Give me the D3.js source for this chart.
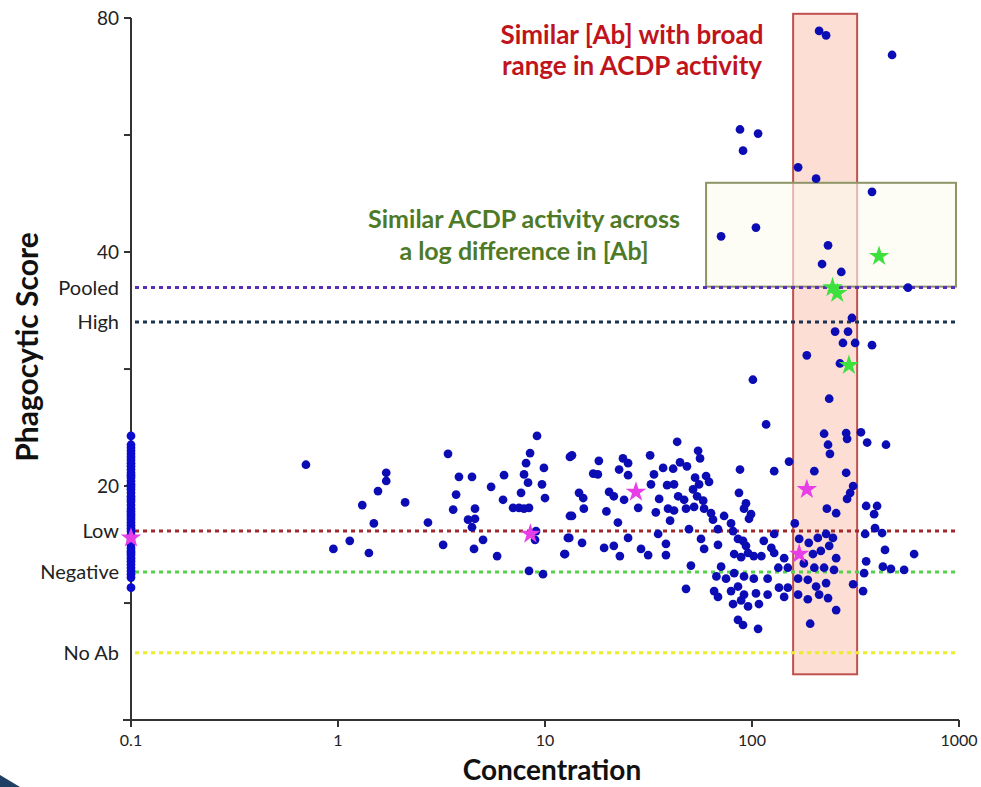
<!DOCTYPE html>
<html>
<head>
<meta charset="utf-8">
<script src="https://cdn.jsdelivr.net/npm/d3@7"></script>
<style>
body{margin:0;background:#fff;}
svg{display:block;font-family:Lato,"Open Sans",sans-serif;}
</style>
</head>
<body>
<div id="chart"></div>
<script>
// axis ticks
const xTicks=[0.1,1,10,100,1000];
const xTickLabels=["0.1","1","10","100","1000"];
const yTicks=[20,40,80];
const yMinorTicks=[14.14,28.28,56.57];

// threshold lines
const refNames=["Pooled","High","Low","Negative","No Ab"];
const refScores=[36.0,32.5,17.5,15.5,12.2];
const refColors=["#5a2fb8","#1d3350","#a0282a","#55d24a","#ecec2c"];

// samples without antibody, plotted at 0.1
const noAbConc=0.1;
const noAbScores=[23.2,22.6,22.4,22.2,22.0,21.8,21.6,21.4,21.2,21.0,20.8,20.65,20.5,20.3,20.1,19.95,19.8,19.6,19.4,19.25,19.1,18.9,
18.7,18.55,18.4,18.25,18.1,17.95,17.8,17.65,17.5,17.3,17.1,16.95,16.8,16.65,16.5,16.4,16.3,16.15,16.0,15.85,15.7,15.55,15.4,15.25,14.8];

// individual samples
const sampleConc=[0.70,0.95,1.14,1.31,1.41,1.49,1.56,1.71,1.71,2.11,2.72,3.22,3.40,3.60,3.72,3.84,4.25,4.44,4.54,4.59,
4.59,4.44,5.02,5.49,5.87,6.27,6.34,7.01,7.49,7.92,8.37,7.66,7.92,8.10,8.28,8.47,9.15,9.88,9.67,10.0,
9.05,8.95,8.37,9.78,12.4,12.9,13.2,13.2,117,13.5,18.2,17.1,18.0,14.6,15.3,15.4,13.5,13.1,15.1,12.5,
23.8,25.2,22.8,25.2,20.4,21.5,24.1,28.2,19.8,22.5,25.2,21.5,19.3,23.0,29.1,31.5,32.2,33.6,32.5,35.6,
34.3,35.2,38.4,38.4,37.2,41.6,38.9,42.0,43.5,44.9,48.5,44.0,39.3,42.0,40.2,47.0,48.0,52.5,54.9,56.1,
53.1,55.5,51.9,54.3,49.6,50.7,48.0,58.1,58.7,60.0,62.0,63.4,64.8,73.3,56.7,58.7,68.5,68.5,79.2,81.0,
87.5,86.5,91.5,96.7,93.5,98.9,128,85.6,90.5,93.5,82.0,88.6,95.7,102,111,124,128,114,128,70.9,
67.3,74.9,82.0,91.5,102,119,134,65.6,68.5,79.2,85.6,91.5,104.5,119,81.0,88.6,95.7,108,85.6,90.5,
107,101,252,291,275,315,380,184,266,236,223,285,288,336,360,444,233,238,200,285,
151,308,298,288,230,255,356,402,389,393,425,352,439,607,429,469,543,356,348,344,
308,161,169,188,208,228,246,236,215,197,255,178,200,223,249,167,186,204,228,167,
186,211,233,255,191,149,143,143,149,135,211,228,475,87.5,107,90.5,167,204,380,70.9,
104.5,233,218,270,567,304];
const sampleScore=[21.3,16.6,17.0,18.9,16.4,17.9,19.7,20.8,20.3,19.05,17.95,16.8,22.0,18.65,19.5,20.55,18.1,20.55,16.6,18.7,
18.15,17.7,17.05,19.95,16.25,19.2,20.65,18.75,18.75,18.7,18.75,19.6,20.7,21.4,20.2,22.05,23.2,21.1,20.1,19.3,
17.5,17.05,15.55,15.4,16.35,17.15,18.3,21.8,24.0,21.9,21.55,20.75,20.7,19.6,19.3,18.7,18.3,17.15,16.9,16.35,
21.7,21.4,21.0,20.65,19.65,19.4,19.2,18.75,18.55,17.95,17.15,16.75,16.65,16.25,16.6,16.3,21.9,20.7,20.1,19.25,
18.5,17.35,16.85,16.3,21.1,21.05,20.05,20.1,22.8,21.45,21.2,19.4,18.7,18.6,18.05,19.2,18.7,18.8,22.2,21.7,
20.5,20.1,19.8,19.4,17.6,15.8,14.75,19.15,18.7,20.6,20.25,18.45,18.1,18.3,17.1,16.6,17.6,16.8,17.9,17.5,
21.0,19.6,18.7,18.15,19.0,18.4,20.9,17.1,17.0,16.75,16.35,16.2,16.4,16.25,16.25,16.65,16.4,17.0,17.35,15.75,
15.3,15.2,15.45,15.3,15.2,15.2,15.7,14.65,14.4,14.65,14.85,14.5,14.55,14.5,14.1,14.25,14.0,14.1,13.45,13.25,
13.1,27.4,31.6,31.6,30.55,30.55,30.35,29.45,28.75,25.9,23.35,23.4,23.0,23.45,22.75,22.6,22.6,22.0,20.9,20.8,
21.5,20.0,19.6,19.25,18.7,18.45,18.85,18.85,18.4,17.65,17.4,17.35,16.55,16.35,15.75,15.65,15.6,16.0,15.45,14.65,
14.95,17.9,17.1,16.9,17.15,17.35,17.15,16.75,16.5,16.35,16.15,15.9,15.7,15.7,15.6,15.2,15.15,14.85,15.0,14.5,
14.3,14.5,14.35,13.85,13.3,15.7,16.15,14.4,14.8,14.8,77.0,76.0,71.7,57.5,56.8,54.0,51.4,49.7,47.8,41.9,
43.0,40.8,38.6,37.7,36.0,32.9];

// highlighted samples
const pinkConc=[0.1,8.5,27.5,184,169];
const pinkScore=[17.15,17.35,19.65,19.8,16.35];
const greenConc=[245,258,411,294];
const greenScore=[36.0,35.4,39.5,28.6];

// annotation boxes [conc0, conc1, score0, score1]
const redBox=[158,322,11.45,81];
const greenBox=[60,967,36.1,49.1];
const redNote=["Similar [Ab] with broad","range in ACDP activity"];
const greenNote=["Similar ACDP activity across","a log difference in [Ab]"];

window.addEventListener("load",draw);
function draw(){
const svg=d3.select("#chart").append("svg")
    .attr("width",981)
    .attr("height",787);

const x=d3.scaleLog().domain([0.1,1000]).range([131,959]);
const y=d3.scaleLog().base(2).domain([10,80]).range([720,18]);

// boxes
svg.append("rect")
    .attr("x",x(redBox[0]))
    .attr("y",y(redBox[3]))
    .attr("width",x(redBox[1])-x(redBox[0]))
    .attr("height",y(redBox[2])-y(redBox[3]))
    .style("fill","#fcded4")
    .style("stroke","#c0504d")
    .style("stroke-width",2);
svg.append("rect")
    .attr("x",x(greenBox[0]))
    .attr("y",y(greenBox[3]))
    .attr("width",x(greenBox[1])-x(greenBox[0]))
    .attr("height",y(greenBox[2])-y(greenBox[3]))
    .style("fill","#fbfbee")
    .style("fill-opacity",0.6)
    .style("stroke","#8d9466")
    .style("stroke-width",2);

// threshold lines
svg.selectAll(".ref").data(refScores).enter().append("line")
    .attr("class","ref")
    .attr("x1",x(0.1)+4)
    .attr("x2",x(1000))
    .attr("y1",d=>y(d))
    .attr("y2",d=>y(d))
    .style("stroke",(d,i)=>refColors[i])
    .style("stroke-width",3)
    .style("stroke-dasharray","4,4");

// axes
const ax=svg.append("g").style("stroke","#333").style("stroke-width",2);
ax.append("line").attr("x1",x(0.1)).attr("x2",x(0.1)).attr("y1",y(80)).attr("y2",y(10)+6);
ax.append("line").attr("x1",x(0.1)-8).attr("x2",x(1000)).attr("y1",y(10)).attr("y2",y(10));
ax.selectAll(".yt").data(yTicks.concat(yMinorTicks)).enter().append("line")
    .attr("x1",x(0.1)-7).attr("x2",x(0.1))
    .attr("y1",d=>y(d)).attr("y2",d=>y(d));
ax.selectAll(".xt").data(xTicks).enter().append("line")
    .attr("x1",d=>x(d)).attr("x2",d=>x(d))
    .attr("y1",y(10)).attr("y2",y(10)+7);

svg.selectAll(".ytl").data(yTicks).enter().append("text")
    .attr("x",x(0.1)-12)
    .attr("y",d=>y(d)+7)
    .style("text-anchor","end")
    .style("font-size","19px")
    .style("fill","#222")
    .text(d=>d);
svg.selectAll(".refl").data(refScores).enter().append("text")
    .attr("x",x(0.1)-12)
    .attr("y",d=>y(d)+7)
    .style("text-anchor","end")
    .style("font-size","20px")
    .style("fill","#222")
    .text((d,i)=>refNames[i]);
svg.selectAll(".xtl").data(xTicks).enter().append("text")
    .attr("x",d=>x(d))
    .attr("y",y(10)+26)
    .style("text-anchor","middle")
    .style("font-size","16px")
    .style("fill","#222")
    .text((d,i)=>xTickLabels[i]);

svg.append("text")
    .attr("x",552)
    .attr("y",780)
    .style("text-anchor","middle")
    .style("font-size","28px")
    .style("font-weight","bold")
    .style("fill","#111")
    .text("Concentration");
svg.append("text")
    .attr("transform","translate(38,347) rotate(-90)")
    .style("text-anchor","middle")
    .style("font-size","30px")
    .style("font-weight","bold")
    .style("fill","#111")
    .text("Phagocytic Score");

// points
const dot=d3.symbol().type(d3.symbolCircle).size(60);
svg.selectAll(".noab").data(noAbScores).enter().append("path")
    .attr("d",dot)
    .attr("transform",d=>"translate("+x(noAbConc)+","+y(d)+")")
    .style("fill","#0b0bd0");
svg.selectAll(".pt").data(sampleScore).enter().append("path")
    .attr("d",dot)
    .attr("transform",(d,i)=>"translate("+x(sampleConc[i])+","+y(d)+")")
    .style("fill","#0c0cb4");

const star=d3.symbol().type(d3.symbolStar).size(130);
svg.selectAll(".pink").data(pinkScore).enter().append("path")
    .attr("d",star)
    .attr("transform",(d,i)=>"translate("+x(pinkConc[i])+","+y(d)+")")
    .style("fill","#e83ee8");
svg.selectAll(".grn").data(greenScore).enter().append("path")
    .attr("d",star)
    .attr("transform",(d,i)=>"translate("+x(greenConc[i])+","+y(d)+")")
    .style("fill","#3ee03e");

// notes
svg.selectAll(".rn").data(redNote).enter().append("text")
    .attr("x",632)
    .attr("y",(d,i)=>44+i*31)
    .style("text-anchor","middle")
    .style("font-size","26px")
    .style("font-weight","bold")
    .style("fill","#c0141c")
    .text(d=>d);
svg.selectAll(".gn").data(greenNote).enter().append("text")
    .attr("x",524)
    .attr("y",(d,i)=>228+i*32)
    .style("text-anchor","middle")
    .style("font-size","25px")
    .style("font-weight","bold")
    .style("fill","#4e7a27")
    .text(d=>d);

// slide corner
svg.append("path")
    .attr("d","M0,775L20,787L0,787Z")
    .style("fill","#1f3f63");
}
</script>
</body>
</html>
